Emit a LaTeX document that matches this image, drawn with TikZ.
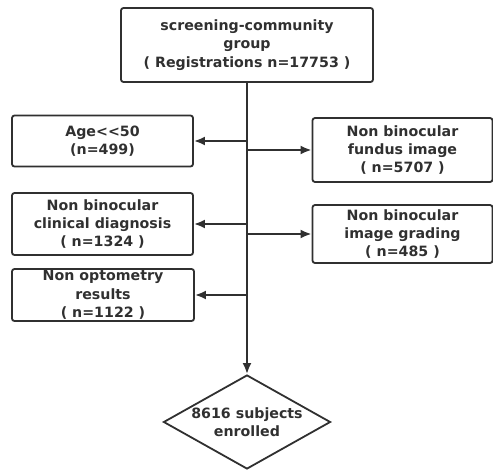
\documentclass[tikz,border=0pt]{standalone}
\usepackage{fontspec}
\setmainfont{DejaVu Sans}
\usetikzlibrary{shapes.geometric,arrows.meta}
\definecolor{ink}{HTML}{303030}
\begin{document}
\begin{tikzpicture}[x=1pt,y=-1pt,
  txt/.style={font=\fontsize{14.2}{18.3}\selectfont\bfseries,text=ink},
  box/.style={txt,draw=ink,line width=1.8pt,rounded corners=2.5pt,align=center,inner sep=0pt},
  arr/.style={draw=ink,line width=2.2pt,-{Latex[length=11pt,width=9pt]}}]
\useasboundingbox (0,0) rectangle (493,471);
\node[box,minimum width=252pt,minimum height=74pt] (top) at (247,45) {screening-community\\group\\( Registrations n=17753 )};
\node[box,minimum width=181pt,minimum height=51pt] (age) at (102.5,141) {Age<{}<50\\(n=499)};
\node[box,minimum width=180pt,minimum height=64pt] (fundus) at (402.5,150) {Non binocular\\fundus image\\( n=5707 )};
\node[box,minimum width=181pt,minimum height=62pt] (clin) at (102.5,224) {Non binocular\\clinical diagnosis\\( n=1324 )};
\node[box,minimum width=180pt,minimum height=58pt] (grad) at (402.5,234) {Non binocular\\image grading\\( n=485 )};
\node[box,minimum width=182pt,minimum height=52pt] (opt) at (103,295) {Non optometry\\results\\( n=1122 )};
\node[txt,draw=ink,line width=1.8pt,diamond,aspect=1.75,inner sep=0pt,minimum width=167pt,minimum height=94pt,align=center] (end) at (247,422) {8616 subjects\\enrolled};
\draw[arr,line width=2.7pt] (top.south) -- (end.north);
\coordinate (j1) at (top.south |- age.east);
\coordinate (j2) at (top.south |- fundus.west);
\coordinate (j3) at (top.south |- clin.east);
\coordinate (j4) at (top.south |- grad.west);
\coordinate (j5) at (top.south |- opt.east);
\draw[arr] (j1) -- (age.east);
\draw[arr] (j2) -- (fundus.west);
\draw[arr] (j3) -- (clin.east);
\draw[arr] (j4) -- (grad.west);
\draw[arr] (j5) -- (opt.east);
\end{tikzpicture}
\end{document}
